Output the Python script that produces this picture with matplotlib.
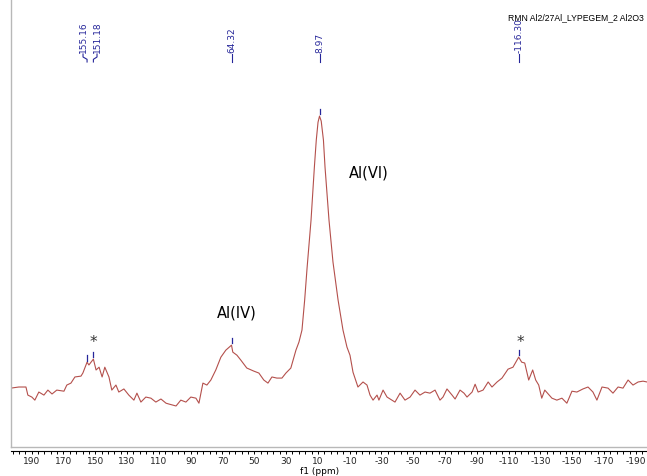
"""
27Al MAS NMR spectrum (RMN Al2/27Al_LYPEGEM_2 Al2O3)
"""
import matplotlib
matplotlib.use('Agg')
import matplotlib.pyplot as plt
import matplotlib.transforms as mtransforms
from matplotlib.ticker import FixedLocator, MultipleLocator
import numpy as np

plt.rcParams['font.family'] = ['DejaVu Sans']
plt.rcParams['axes.unicode_minus'] = False

# chemical shift (ppm) and intensity (main peak = 100)
ppm = [203.1, 198.1, 193.6, 192.4, 189.9, 188.0, 185.5, 182.3, 179.8, 177.2,
       174.2, 169.7, 167.9, 165.3, 162.8, 159.0, 157.8, 155.16, 154.0, 151.18,
       149.5, 147.6, 145.7, 144.0, 141.4, 139.6, 137.0, 135.2, 132.0, 128.9,
       125.7, 123.8, 121.3, 118.2, 115.0, 111.9, 108.7, 105.5, 103.7, 99.2,
       96.2, 93.0, 89.9, 86.7, 84.8, 82.3, 79.8, 77.3, 74.2, 71.0,
       67.9, 64.32, 63.5, 60.9, 58.4, 54.7, 50.3, 47.1, 44.0, 41.4,
       38.9, 35.8, 32.6, 30.1, 27.0, 23.8, 21.9, 20.0, 18.3, 16.8,
       14.3, 12.2, 11.0, 9.9, 8.97, 7.9, 6.5, 5.5, 3.0, 0.5,
       -2.7, -5.8, -8.3, -10.2, -12.1, -15.2, -18.4, -20.9, -22.8, -24.7,
       -27.2, -28.4, -31.0, -33.5, -36.6, -38.5, -41.7, -44.8, -48.0, -51.1,
       -54.2, -57.4, -60.5, -63.7, -66.8, -68.7, -71.2, -74.4, -76.3, -79.4,
       -81.9, -83.8, -87.0, -88.9, -90.8, -93.9, -97.1, -99.5, -102.7, -105.8,
       -109.6, -112.7, -115.2, -116.3, -118.2, -120.1, -122.6, -125.1, -127.0, -128.9,
       -130.8, -132.7, -137.2, -140.3, -143.5, -146.6, -149.8, -152.9, -156.7, -159.9,
       -163.0, -165.5, -168.7, -172.5, -175.6, -178.8, -181.9, -185.1, -188.2, -191.4,
       -194.5, -197.0]
intensity = [2.5, 2.9, 2.9, 0.0, -0.7, -1.8, 1.1, 0.0, 1.8, 0.4,
             1.8, 1.4, 3.6, 4.3, 6.5, 6.8, 7.9, 11.8, 10.8, 12.9,
             9.0, 10.0, 6.5, 10.0, 6.5, 1.8, 3.6, 1.1, 2.2, 0.0,
             -1.8, 0.7, -2.5, -0.7, -1.1, -2.5, -1.4, -2.9, -3.2, -3.9,
             -1.8, -2.5, -0.7, -1.1, -2.9, 4.3, 3.6, 5.4, 9.0, 13.6,
             16.1, 17.9, 15.4, 14.3, 12.5, 9.7, 8.6, 7.9, 5.4, 4.3,
             6.5, 6.1, 6.1, 7.9, 9.7, 16.1, 19.0, 23.3, 34.1, 45.5,
             62.7, 81.7, 91.4, 97.8, 100.0, 98.2, 91.4, 81.7, 62.7, 47.7,
             34.1, 23.3, 17.2, 14.3, 8.2, 2.9, 4.7, 3.6, 0.0, -1.8,
             0.0, -1.8, 1.8, -0.7, -1.8, -2.5, 0.7, -1.8, -0.7, 1.8,
             0.0, 1.1, 0.7, 1.8, -1.8, -0.7, 2.2, 0.0, -1.4, 1.8,
             0.7, -0.7, 1.1, 3.9, 1.1, 1.8, 4.7, 2.9, 4.7, 6.1,
             9.3, 10.0, 12.5, 13.6, 11.8, 11.5, 5.4, 9.0, 5.4, 3.6,
             -1.1, 1.8, -1.1, -1.8, -1.1, -2.9, 1.4, 1.1, 2.2, 2.9,
             1.1, -1.8, 2.9, 2.5, 0.7, 2.9, 2.5, 5.4, 3.6, 4.7,
             5.0, 4.7]

# picked peaks
peak_ppm = [155.16, 151.18, 64.32, 8.97, -116.30]
peak_int = [11.8, 12.9, 17.9, 100.0, 13.6]
peak_label_ppm = [157.7, 148.9, 64.32, 8.97, -116.30]   # where the labels sit

tick_labels = [190, 170, 150, 130, 110, 90, 70, 50, 30, 10,
               -10, -30, -50, -70, -90, -110, -130, -150, -170, -190]

LINE_COLOR = '#b4504c'
PEAK_COLOR = '#26269a'

W, H = 647, 476
fig = plt.figure(figsize=(W / 100, H / 100), dpi=100)
ax = fig.add_axes([11 / W, 1 - 447 / H, 1 - 11 / W, 447 / H])

ax.plot(ppm, intensity, color=LINE_COLOR, lw=0.8)
ax.set_xlim(203.0, -197.0)
ax.set_ylim(-18.6, 141.6)

# frame
for s in ['top', 'right']:
    ax.spines[s].set_visible(False)
ax.spines['left'].set_color('#b8b8b8')
ax.spines['left'].set_linewidth(1.0)
ax.plot([0, 1], [0, 0], transform=ax.transAxes, color='#b8b8b8', lw=1.0, clip_on=False)
ax.spines['bottom'].set_position(('outward', 3))
ax.spines['bottom'].set_linewidth(0.8)
ax.set_yticks([])

ax.xaxis.set_major_locator(FixedLocator(tick_labels))
ax.xaxis.set_minor_locator(FixedLocator(np.arange(202, -200, -4)))
ax.set_xticklabels([str(t) for t in tick_labels])
ax.tick_params(axis='x', which='both', direction='out', length=2.5, width=0.7,
               labelsize=6.5, pad=2, labelcolor='#222222')

fig.text(320 / W, 1 - 471 / H, 'f1 (ppm)', ha='center', va='center', fontsize=6.5)

# peak labels at the top
trans = mtransforms.blended_transform_factory(ax.transData, ax.transAxes)
y_txt = (447 - 54) / 447
y_mid = (447 - 57) / 447
y_bot = (447 - 62) / 447
for p, lp in zip(peak_ppm, peak_label_ppm):
    ax.plot([lp, lp, p, p], [y_txt, y_mid, y_bot + 0.006, y_bot], transform=trans,
            color=PEAK_COLOR, lw=0.8, clip_on=False)
    ax.text(lp, y_txt + 0.003, f'{p:.2f}', transform=trans, rotation=90,
            ha='center', va='bottom', fontsize=6.5, color=PEAK_COLOR)

# small peak ticks on the spectrum
for p, v in zip(peak_ppm, peak_int):
    ax.plot([p, p], [v + 0.6, v + 2.4], color=PEAK_COLOR, lw=0.9)

# spinning side bands and site labels
for p, v in [(151.4, 19.0), (-117.2, 19.0)]:
    ax.text(p, v, '*', ha='center', va='center', fontsize=11, color='#333333')
ax.text(60.9, 29.4, 'Al(IV)', ha='center', va='center', fontsize=10.5)
ax.text(-22.2, 79.6, 'Al(VI)', ha='center', va='center', fontsize=10.5)

fig.text(508 / W, 1 - 18 / H, 'RMN Al2/27Al_LYPEGEM_2 Al2O3', ha='left', va='center',
         fontsize=6.2, family=['Liberation Sans'])

plt.savefig('out.png', dpi=100)
plt.close()
